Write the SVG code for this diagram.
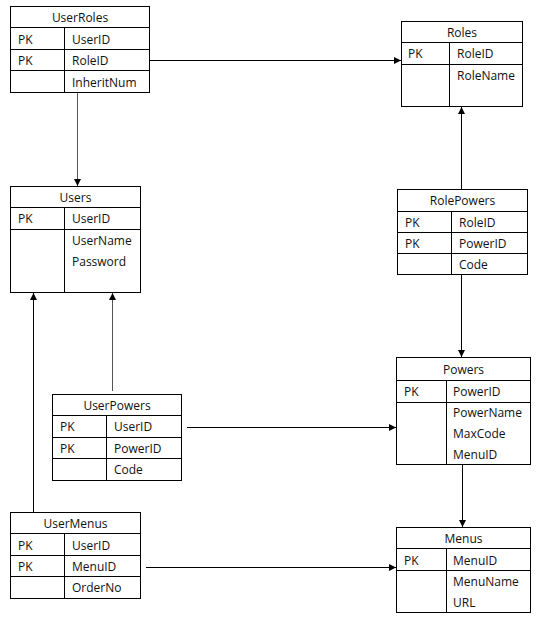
<svg xmlns="http://www.w3.org/2000/svg" width="541" height="620" viewBox="0 0 541 620">
<defs>
<style>
.box{fill:#fff;stroke:#000;stroke-width:1}
.ln{stroke:#000;stroke-width:1;fill:none}
.c{stroke:#000;stroke-width:1;fill:none;marker-end:url(#ah)}
.cg{stroke:#555;stroke-width:1;fill:none;marker-end:url(#ah)}
text{font-family:"Open Sans","Noto Sans","DejaVu Sans",sans-serif;font-size:12px;fill:#111}
.t{text-anchor:middle}
</style>
<marker id="ah" markerUnits="userSpaceOnUse" markerWidth="8" markerHeight="8" refX="7" refY="3.5" orient="auto">
<path d="M0,0 L7,3.5 L0,7 z" fill="#000"/>
</marker>
</defs>
<rect width="541" height="620" fill="#fff"/>

<g id="connectors">
<path class="c" d="M149.5 60.5 H401"/>
<path class="cg" d="M77.5 92.5 V186"/>
<path class="c" d="M461.5 189.5 V107"/>
<path class="c" d="M461.5 274.5 V357"/>
<path class="cg" d="M112.5 391 V293"/>
<path class="c" d="M33.5 512 V293"/>
<path class="c" d="M187 427.5 H396"/>
<path class="c" d="M146 567.5 H396"/>
<path class="c" d="M462.5 464.5 V527"/>
</g>

<g id="UserRoles">
<rect class="box" x="10.5" y="6.5" width="139" height="86"/>
<path class="ln" d="M10.5 27.5 H149.5 M10.5 49.5 H149.5 M10.5 70.5 H149.5 M64.5 27.5 V92.5"/>
<text class="t" x="80" y="22">UserRoles</text>
<text x="18" y="43.5">PK</text><text x="72" y="43.5">UserID</text>
<text x="18" y="65">PK</text><text x="72" y="65">RoleID</text>
<text x="72" y="86.5">InheritNum</text>
</g>

<g id="Roles">
<rect class="box" x="401.5" y="21.5" width="121" height="85"/>
<path class="ln" d="M401.5 42.5 H522.5 M401.5 64.5 H522.5 M449.5 42.5 V106.5"/>
<text class="t" x="462" y="37">Roles</text>
<text x="408" y="58">PK</text><text x="457" y="58">RoleID</text>
<text x="457" y="80">RoleName</text>
</g>

<g id="Users">
<rect class="box" x="10.5" y="186.5" width="130" height="106"/>
<path class="ln" d="M10.5 207.5 H140.5 M10.5 229.5 H140.5 M64.5 207.5 V292.5"/>
<text class="t" x="75.5" y="202">Users</text>
<text x="18" y="223">PK</text><text x="72" y="223">UserID</text>
<text x="72" y="244.5">UserName</text>
<text x="72" y="265.5">Password</text>
</g>

<g id="RolePowers">
<rect class="box" x="397.5" y="189.5" width="130" height="85"/>
<path class="ln" d="M397.5 211.5 H527.5 M397.5 232.5 H527.5 M397.5 253.5 H527.5 M451.5 211.5 V274.5"/>
<text class="t" x="462.5" y="205">RolePowers</text>
<text x="405" y="226.5">PK</text><text x="459" y="226.5">RoleID</text>
<text x="405" y="247.5">PK</text><text x="459" y="247.5">PowerID</text>
<text x="459" y="268.5">Code</text>
</g>

<g id="Powers">
<rect class="box" x="396.5" y="357.5" width="134" height="107"/>
<path class="ln" d="M396.5 380.5 H530.5 M396.5 402.5 H530.5 M446.5 380.5 V464.5"/>
<text class="t" x="463.5" y="374">Powers</text>
<text x="404" y="396">PK</text><text x="453" y="396">PowerID</text>
<text x="453" y="417">PowerName</text>
<text x="453" y="438">MaxCode</text>
<text x="453" y="459">MenuID</text>
</g>

<g id="UserPowers">
<rect class="box" x="52.5" y="394.5" width="129" height="86"/>
<path class="ln" d="M52.5 415.5 H181.5 M52.5 437.5 H181.5 M52.5 458.5 H181.5 M106.5 415.5 V480.5"/>
<text class="t" x="117" y="410">UserPowers</text>
<text x="60" y="431">PK</text><text x="114" y="431">UserID</text>
<text x="60" y="452.5">PK</text><text x="114" y="452.5">PowerID</text>
<text x="114" y="474">Code</text>
</g>

<g id="UserMenus">
<rect class="box" x="10.5" y="512.5" width="130" height="86"/>
<path class="ln" d="M10.5 533.5 H140.5 M10.5 555.5 H140.5 M10.5 576.5 H140.5 M64.5 533.5 V598.5"/>
<text class="t" x="75.5" y="528">UserMenus</text>
<text x="18" y="549.5">PK</text><text x="72" y="549.5">UserID</text>
<text x="18" y="570.5">PK</text><text x="72" y="570.5">MenuID</text>
<text x="72" y="592">OrderNo</text>
</g>

<g id="Menus">
<rect class="box" x="396.5" y="527.5" width="134" height="85"/>
<path class="ln" d="M396.5 548.5 H530.5 M396.5 570.5 H530.5 M446.5 548.5 V612.5"/>
<text class="t" x="463.5" y="543">Menus</text>
<text x="404" y="565">PK</text><text x="453" y="565">MenuID</text>
<text x="453" y="586">MenuName</text>
<text x="453" y="606.5">URL</text>
</g>
</svg>
